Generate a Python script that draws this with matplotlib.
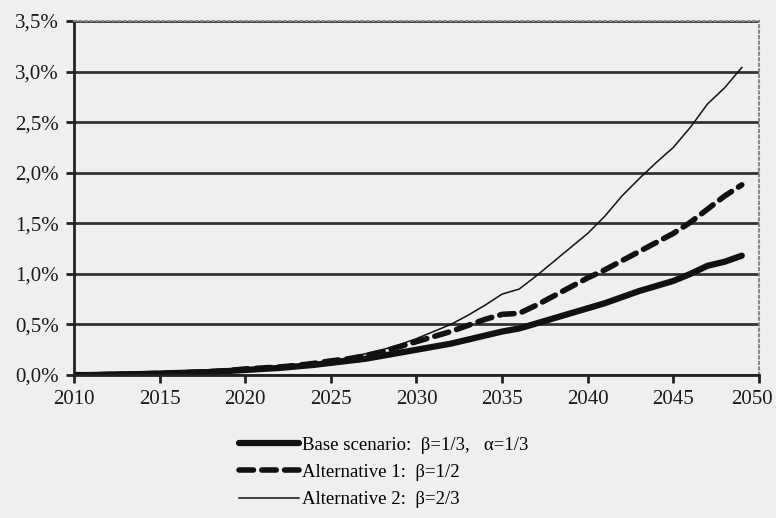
import matplotlib.pyplot as plt
from matplotlib.ticker import FuncFormatter
from matplotlib.transforms import ScaledTranslation

# yearly values (percent)
years = list(range(2010, 2050))
base = [0.0, 0.0, 0.005, 0.008, 0.01, 0.015, 0.02, 0.025, 0.03, 0.04,
        0.05, 0.06, 0.07, 0.085, 0.10, 0.12, 0.14, 0.16, 0.19, 0.22,
        0.25, 0.28, 0.31, 0.35, 0.39, 0.43, 0.46, 0.51, 0.56, 0.61,
        0.66, 0.71, 0.77, 0.83, 0.88, 0.93, 1.00, 1.08, 1.12, 1.18]
alt1 = [0.0, 0.0, 0.005, 0.008, 0.012, 0.016, 0.022, 0.028, 0.035, 0.045,
        0.06, 0.07, 0.08, 0.095, 0.115, 0.14, 0.16, 0.19, 0.23, 0.28,
        0.33, 0.38, 0.43, 0.49, 0.55, 0.60, 0.61, 0.69, 0.78, 0.87,
        0.96, 1.04, 1.13, 1.22, 1.31, 1.40, 1.51, 1.64, 1.77, 1.88]
alt2 = [0.0, 0.0, 0.005, 0.008, 0.012, 0.016, 0.022, 0.028, 0.035, 0.045,
        0.06, 0.07, 0.08, 0.095, 0.115, 0.14, 0.17, 0.21, 0.25, 0.30,
        0.36, 0.43, 0.50, 0.59, 0.69, 0.80, 0.85, 0.98, 1.12, 1.26,
        1.40, 1.57, 1.77, 1.94, 2.10, 2.25, 2.45, 2.68, 2.84, 3.04]

labels = ['Base scenario:  β=1/3,   α=1/3',
          'Alternative 1:  β=1/2',
          'Alternative 2:  β=2/3']

plt.rcParams['font.family'] = ['Liberation Serif', 'DejaVu Serif']
bg = '#efefef'

fig = plt.figure(figsize=(7.76, 5.18), dpi=100, facecolor=bg)
ax = fig.add_axes([0.0954, 0.276, 0.8826, 0.6835], facecolor=bg)

ax.plot(years, base, color='#111111', lw=4.5, solid_capstyle='round', label=labels[0])
ax.plot(years, alt1, color='#111111', lw=4.0, ls=(0, (2.6, 1.5)), dash_capstyle='round', label=labels[1])
ax.plot(years, alt2, color='#111111', lw=1.1, label=labels[2])

ax.set_xlim(2010, 2050)
ax.set_ylim(0, 3.5)
ax.set_xticks(range(2010, 2051, 5))
ax.set_yticks([i * 0.5 for i in range(8)])
ax.yaxis.set_major_formatter(FuncFormatter(lambda v, p: f"{v:.1f}%".replace('.', ',')))
ax.grid(axis='y', color='#333333', lw=2.0)
ax.set_axisbelow(True)

for s in ['left', 'bottom']:
    ax.spines[s].set_color('#222222')
    ax.spines[s].set_linewidth(2.0)
for s in ['top', 'right']:
    ax.spines[s].set_color('#888888')
    ax.spines[s].set_linewidth(1.5)
    ax.spines[s].set_linestyle(':')

ax.tick_params(axis='both', direction='out', length=6, width=2, color='#222222',
               labelsize=15, labelcolor='#1a1a1a')
ax.tick_params(axis='x', pad=5)
ax.tick_params(axis='y', pad=5)

# keep the last year label inside the picture, as in the original
last = ax.get_xticklabels()[-1]
last.set_transform(last.get_transform() + ScaledTranslation(-7 / 100, 0, fig.dpi_scale_trans))

fig.legend(loc='upper left', bbox_to_anchor=(0.298, 0.172), frameon=False,
           fontsize=13.5, handlelength=3.2, handletextpad=0.15, labelspacing=0.55,
           borderaxespad=0)

fig.savefig('out.png', dpi=100, facecolor=bg)
